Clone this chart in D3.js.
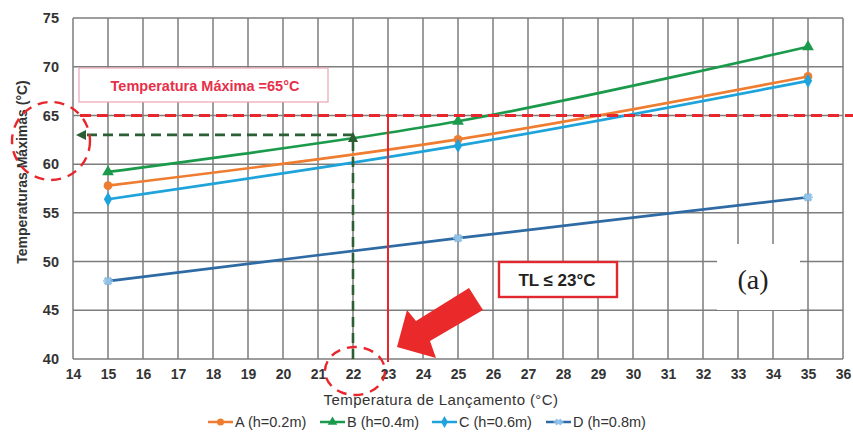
<!DOCTYPE html>
<html><head><meta charset="utf-8">
<script src="https://cdn.jsdelivr.net/npm/d3@7"></script>
<style>body{margin:0;background:#fff}svg{display:block}</style>
</head><body><svg id="c" width="853" height="440"></svg>
<script>
const xValues = [15, 25, 35];
const seriesA = [57.8, 62.55, 69.0];
const seriesB = [59.2, 64.4, 72.05];
const seriesC = [56.4, 61.9, 68.55];
const seriesD = [48.0, 52.4, 56.6];
const seriesNames = ["A (h=0.2m)", "B (h=0.4m)", "C (h=0.6m)", "D (h=0.8m)"];
const xTicks = d3.range(14, 37, 1);
const yTicks = [40, 45, 50, 55, 60, 65, 70, 75];
const limitTemp = 65;
const tlLimit = 23;
const readX = 22, readY = 63;

const FONT = "Arial, Liberation Sans, sans-serif";
const svg = d3.select("#c");
const x = d3.scaleLinear().domain([14, 36]).range([73, 843]);
const y = d3.scaleLinear().domain([40, 75]).range([359, 18]);
const colors = ["#ee7d31", "#1b9a4c", "#1ea3da", "#2e6aa3"];
const data = [seriesA, seriesB, seriesC, seriesD];

// grid
const g = svg.append("g");
g.selectAll(".vg").data(xTicks).join("line")
  .attr("x1", d => x(d)).attr("x2", d => x(d)).attr("y1", y(75)).attr("y2", y(40))
  .attr("stroke", "#7d7d7d").attr("stroke-width", 1.5);
g.selectAll(".hg").data(yTicks).join("line")
  .attr("x1", x(14)).attr("x2", x(36)).attr("y1", d => y(d)).attr("y2", d => y(d))
  .attr("stroke", "#7d7d7d").attr("stroke-width", 1.5);

// white box behind (a)
svg.append("rect").attr("x", 717).attr("y", 244).attr("width", 83).attr("height", 66).attr("fill", "#fff");

// axes labels
const xa = d3.axisBottom(x).tickValues(xTicks).tickSize(0).tickPadding(8);
const ga = svg.append("g").attr("transform", `translate(0,${y(40)})`).call(xa);
ga.select(".domain").remove();
ga.selectAll("text").attr("font-family", FONT).attr("font-weight", "bold").attr("font-size", 14).attr("fill", "#333").attr("dy", "0.85em");
const ya = d3.axisLeft(y).tickValues(yTicks).tickSize(0).tickPadding(14);
const gy = svg.append("g").attr("transform", `translate(${x(14)},0)`).call(ya);
gy.select(".domain").remove();
gy.selectAll("text").attr("font-family", FONT).attr("font-weight", "bold").attr("font-size", 14.5).attr("fill", "#333");

svg.append("text").attr("x", 441).attr("y", 405).attr("text-anchor", "middle")
  .attr("font-family", FONT).attr("font-size", 15).attr("letter-spacing", 0.4).attr("fill", "#333")
  .text("Temperatura de Lançamento (°C)");
svg.append("text").attr("transform", "translate(27,172) rotate(-90)").attr("text-anchor", "middle")
  .attr("font-family", FONT).attr("font-weight", "bold").attr("font-size", 14).attr("fill", "#333")
  .text("Temperaturas Máximas (°C)");

// max temperature box
svg.append("rect").attr("x", 79).attr("y", 68).attr("width", 249).attr("height", 34)
  .attr("fill", "#fff").attr("stroke", "#eaa3b3").attr("stroke-width", 1.2);
svg.append("text").attr("x", 205).attr("y", 91).attr("text-anchor", "middle")
  .attr("font-family", FONT).attr("font-weight", "bold").attr("font-size", 14.5).attr("fill", "#e6304a")
  .text("Temperatura Máxima =65°C");

// series
const line = d3.line().x((d, i) => x(xValues[i])).y(d => y(d)).curve(d3.curveCatmullRom.alpha(0.5));
data.forEach((s, k) => {
  svg.append("path").datum(s).attr("d", line).attr("fill", "none").attr("stroke", colors[k]).attr("stroke-width", 2.7);
});

// markers
const sym = [d3.symbolCircle, d3.symbolTriangle, d3.symbolDiamond, d3.symbolCross];
function marker(sel, k, cx, cy, size) {
  if (k === 3) {
    sel.append("path").attr("transform", `translate(${cx},${cy}) rotate(45)`)
      .attr("d", d3.symbol().type(d3.symbolCross).size(size * 0.8)()).attr("fill", "#8fc3ea");
    sel.append("line").attr("x1", cx - 5).attr("x2", cx + 5).attr("y1", cy).attr("y2", cy).attr("stroke", "#8fc3ea").attr("stroke-width", 1.5);
  } else {
    sel.append("path").attr("transform", `translate(${cx},${cy})`)
      .attr("d", d3.symbol().type(sym[k]).size(size)()).attr("fill", colors[k]);
  }
}
data.forEach((s, k) => {
  s.forEach((v, i) => marker(svg, k, x(xValues[i]), y(v), 60));
});

// red dashed limit line
svg.append("line").attr("x1", 80).attr("x2", 853).attr("y1", y(limitTemp)).attr("y2", y(limitTemp))
  .attr("stroke", "#e8262b").attr("stroke-width", 3).attr("stroke-dasharray", "11,6");

// green dashed reading lines
const dg = "#2b5f33";
svg.append("path").attr("d", `M${x(readX)},${y(40)} L${x(readX)},${y(readY) + 6}`)
  .attr("fill", "none").attr("stroke", dg).attr("stroke-width", 2.6).attr("stroke-dasharray", "10,6");
svg.append("path").attr("d", `M${x(readX)},${y(readY)} L${x(14) + 10},${y(readY)}`)
  .attr("fill", "none").attr("stroke", dg).attr("stroke-width", 2.6).attr("stroke-dasharray", "10,6");
svg.append("path").attr("d", `M${x(readX)},${y(readY) - 3} l-5,10 l10,0 z`).attr("fill", dg);
svg.append("path").attr("d", `M${x(14) + 3},${y(readY)} l10,-5 l0,10 z`).attr("fill", dg);

// red vertical at TL
svg.append("line").attr("x1", x(tlLimit)).attr("x2", x(tlLimit)).attr("y1", y(limitTemp)).attr("y2", y(40) + 3)
  .attr("stroke", "#e8262b").attr("stroke-width", 2);

// big red arrow
svg.append("path").attr("d", "M397,347 L407,310 L416,321 L469,288 L483,310 L430,341 L436,358 Z")
  .attr("fill", "#ea2a2a");

// TL box
svg.append("rect").attr("x", 499).attr("y", 262).attr("width", 118).attr("height", 35)
  .attr("fill", "#fff").attr("stroke", "#e0282e").attr("stroke-width", 2.4);
svg.append("text").attr("x", 557).attr("y", 286).attr("text-anchor", "middle")
  .attr("font-family", FONT).attr("font-weight", "bold").attr("font-size", 17).attr("fill", "#222")
  .text("TL ≤ 23°C");

// (a)
svg.append("text").attr("x", 753).attr("y", 289).attr("text-anchor", "middle")
  .attr("font-family", "Liberation Serif, Times New Roman, serif").attr("font-size", 28).attr("fill", "#222").text("(a)");

// red dashed circles
svg.append("ellipse").attr("cx", 51).attr("cy", 141).attr("rx", 39).attr("ry", 39)
  .attr("fill", "none").attr("stroke", "#e8262b").attr("stroke-width", 2.4).attr("stroke-dasharray", "10,7");
svg.append("ellipse").attr("cx", 355).attr("cy", 371).attr("rx", 30).attr("ry", 24)
  .attr("fill", "none").attr("stroke", "#e8262b").attr("stroke-width", 2.4).attr("stroke-dasharray", "10,7");

// legend
const lx = [208, 320, 432, 546];
seriesNames.forEach((n, k) => {
  const lg = svg.append("g");
  lg.append("line").attr("x1", lx[k]).attr("x2", lx[k] + 25).attr("y1", 422).attr("y2", 422).attr("stroke", colors[k]).attr("stroke-width", 2.5);
  marker(lg, k, lx[k] + 12.5, 422, 40);
  lg.append("text").attr("x", lx[k] + 27).attr("y", 427)
    .attr("font-family", FONT).attr("font-size", 14.5).attr("fill", "#333").text(n);
});
</script></body></html>
